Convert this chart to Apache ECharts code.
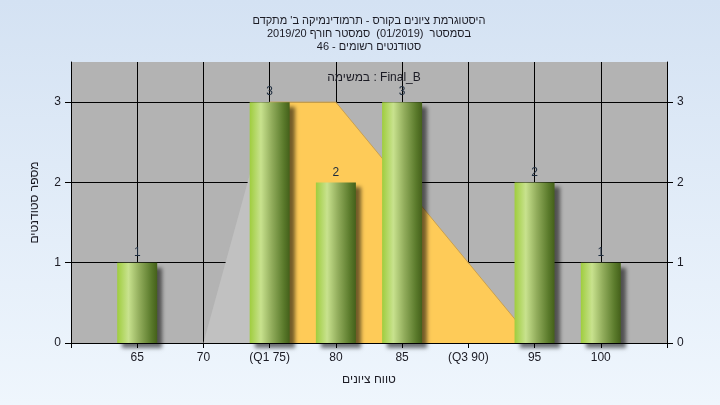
<!DOCTYPE html>
<html><head><meta charset="utf-8">
<script src="https://cdn.jsdelivr.net/npm/echarts@6/dist/echarts.min.js"></script>
<style>html,body{margin:0;padding:0;background:#e4eef9;}#c{width:720px;height:405px;}</style>
</head><body><div id="c" dir="rtl"></div>
<script>
const titleLines = ["היסטוגרמת ציונים בקורס - תרמודינמיקה ב' מתקדם", "בסמסטר  (01/2019)  סמסטר חורף 2019/20", "סטודנטים רשומים - 46"];
const subTitle = "Final_B : במשימה";
const xName = "טווח ציונים";
const yName = "מספר סטודנטים";
const grades = [65, 70, 75, 80, 85, 90, 95, 100];
const counts = [1, 0, 3, 2, 3, 0, 2, 1];
const tickValues = [65, 70, 75, 80, 85, 90, 95, 100];
const tickLabels = ['65', '70', '(Q1 75)', '80', '85', '(Q3 90)', '95', '100'];
const curveLeft = [[70, 0], [75, 3]];
const curveBand = [[75, 3], [80, 3], [95, 0]];
const yTicks = [0, 1, 2, 3];

const FONT = "'Liberation Sans', 'DejaVu Sans', sans-serif";
const TXT = '#1b1b24';
const chart = echarts.init(document.getElementById('c'));
const barData = grades.map((g, i) => [g, counts[i]]).filter(d => d[1] > 0);
const labelFor = v => { const i = tickValues.indexOf(v); return i >= 0 ? tickLabels[i] : ''; };

chart.setOption({
  backgroundColor: new echarts.graphic.LinearGradient(0, 0, 0, 1, [
    { offset: 0, color: '#d4e2f3' }, { offset: 1, color: '#eff6fd' }
  ]),
  textStyle: { fontFamily: FONT },
  title: [
    { text: titleLines.join('\n'), left: 364, top: 9, textAlign: 'center',
      textStyle: { fontSize: 11, fontWeight: 'normal', color: TXT, lineHeight: 13, fontFamily: FONT } },
    { text: subTitle, left: 369, top: 67, textAlign: 'center',
      textStyle: { fontSize: 12, fontWeight: 'normal', color: TXT, fontFamily: FONT } }
  ],
  grid: { left: 71, right: 53, top: 62, bottom: 62, show: true, backgroundColor: '#b3b3b3', borderWidth: 0, containLabel: false },
  xAxis: {
    type: 'value', min: 60, max: 105, interval: 5,
    name: xName, nameLocation: 'middle', nameGap: 31,
    nameTextStyle: { fontSize: 12, color: TXT, fontFamily: FONT },
    axisLine: { show: true, lineStyle: { color: '#000', width: 1 } },
    axisTick: { show: true, length: 5, lineStyle: { color: '#000' } },
    axisLabel: { formatter: labelFor, fontSize: 12, color: TXT, margin: 9, fontFamily: FONT },
    splitLine: { show: true, lineStyle: { color: '#000', width: 1 } }
  },
  yAxis: [
    { type: 'value', min: 0, max: 3.5, interval: 1, position: 'left',
      name: yName, nameLocation: 'middle', nameGap: 30,
      nameTextStyle: { fontSize: 12, color: TXT, fontFamily: FONT },
      axisLine: { show: true, lineStyle: { color: '#000', width: 1 } },
      axisTick: { show: true, length: 6, customValues: yTicks, lineStyle: { color: '#000' } },
      axisLabel: { customValues: yTicks, fontSize: 12, color: TXT, margin: 10, fontFamily: FONT },
      splitLine: { show: true, lineStyle: { color: '#000', width: 1 } } },
    { type: 'value', min: 0, max: 3.5, interval: 1, position: 'right',
      axisLine: { show: true, lineStyle: { color: '#000', width: 1 } },
      axisTick: { show: true, length: 6, customValues: yTicks, lineStyle: { color: '#000' } },
      axisLabel: { customValues: yTicks, fontSize: 12, color: TXT, margin: 10, fontFamily: FONT },
      splitLine: { show: false } }
  ],
  series: [
    { type: 'line', data: curveLeft, showSymbol: false, symbol: 'none', z: 1, silent: true,
      lineStyle: { width: 0 }, areaStyle: { color: '#c1c1c1', opacity: 1 } },
    { type: 'line', data: curveBand, showSymbol: false, symbol: 'none', z: 1, silent: true,
      lineStyle: { width: 1, color: '#c9a050' }, areaStyle: { color: '#fecb58', opacity: 1 } },
    { type: 'bar', data: barData, barWidth: 40, z: 3,
      itemStyle: {
        color: new echarts.graphic.LinearGradient(0, 0, 1, 0, [
          { offset: 0, color: '#9fcd3e' }, { offset: 0.28, color: '#c8e28e' },
          { offset: 0.55, color: '#92ad5c' }, { offset: 0.85, color: '#5a7a2b' }, { offset: 1, color: '#44601a' }
        ]),
        shadowColor: 'rgba(0,0,0,0.55)', shadowBlur: 4, shadowOffsetX: 5, shadowOffsetY: 5
      },
      label: { show: true, position: 'top', distance: 4, fontSize: 12, color: '#1e2c3e', fontFamily: FONT }
    }
  ]
});
</script></body></html>
